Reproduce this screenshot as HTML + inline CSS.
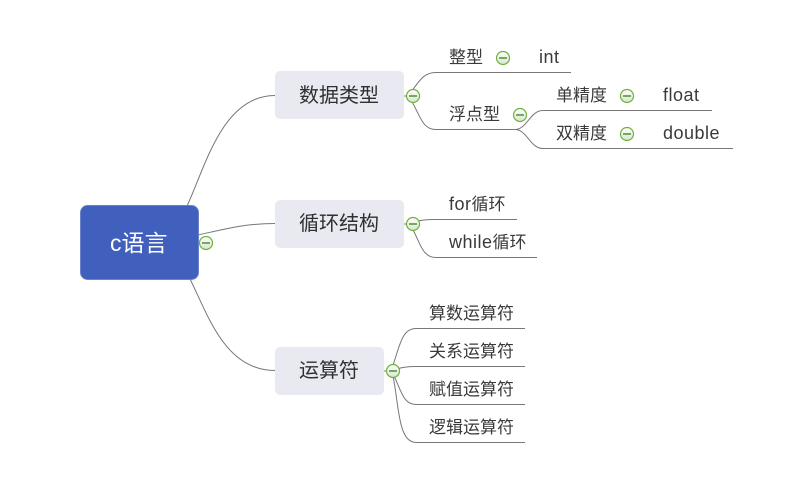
<!DOCTYPE html>
<html><head><meta charset="utf-8">
<style>
html,body{margin:0;padding:0;background:#fff}
body{width:797px;height:497px;overflow:hidden;position:relative}
svg{position:absolute;left:0;top:0}
text{font-family:"Liberation Sans","Noto Sans CJK SC",sans-serif;fill:#3a3a3a;font-size:17px}
.m{font-size:20px;fill:#2f2f2f}
.l{font-size:18px;letter-spacing:.5px}
</style></head><body>
<svg width="797" height="497" viewBox="0 0 797 497" xmlns="http://www.w3.org/2000/svg">
<defs>
<linearGradient id="g" x1="0" y1="0" x2="0" y2="1"><stop offset="0" stop-color="#fff"/><stop offset="1" stop-color="#d5e6cc"/></linearGradient>
<g id="t"><circle r="6.500" fill="url(#g)" stroke="#6fb13c" stroke-width="1.200"/><path d="M-4 0H4" stroke="#3f7a2a" stroke-width="1.300"/></g>
</defs>
<g fill="none" stroke="#777" stroke-width="1">
<path d="M187 206C205 168 222 95.500 275 95.500"/>
<path d="M198 235C225 229 245 223.500 275 223.500"/>
<path d="M190 279C208 315 225 370.500 275 370.500"/>
<path d="M404 96H411"/>
<path d="M411 92C420 80 424 72.500 436 72.500H571"/>
<path d="M411 100C420 115 422 129.500 436 129.500H515C527 129.500 530 110.500 543 110.500H712"/>
<path d="M515 129.500C527 129.500 530 148.500 543 148.500H733"/>
<path d="M404 224H410"/>
<path d="M414 222C420 220 425 219.500 435 219.500H517"/>
<path d="M413 230C420 242 422 257.500 436 257.500H537"/>
<path d="M384 371H390"/>
<path d="M393 365C400 345 402 328.500 416 328.500H525"/>
<path d="M397 369C403 367 408 366.500 416 366.500H525"/>
<path d="M394 376C401 390 403 404.500 416 404.500H525"/>
<path d="M393 376C399 405 398 442.500 416 442.500H525"/>
</g>
<rect x="80.500" y="205.500" width="118" height="74" rx="7" fill="#415fbc" stroke="#6b83cc" stroke-width="1"/>
<rect x="275" y="71" width="129" height="48" rx="5" fill="#e9e9f2"/>
<rect x="275" y="200" width="129" height="48" rx="5" fill="#e9e9f2"/>
<rect x="275" y="347" width="109" height="48" rx="5" fill="#e9e9f2"/>
<text x="110" y="251" style="font-size:23px;fill:#fff">c语言</text>
<text class="m" x="299" y="102">数据类型</text>
<text class="m" x="299" y="230">循环结构</text>
<text class="m" x="299" y="377">运算符</text>
<text x="449" y="63">整型</text>
<text class="l" x="539" y="63">int</text>
<text x="449" y="120">浮点型</text>
<text x="556" y="101">单精度</text>
<text class="l" x="663" y="101">float</text>
<text x="556" y="139">双精度</text>
<text class="l" x="663" y="139">double</text>
<text x="449" y="210"><tspan class="l">for</tspan>循环</text>
<text x="449" y="248"><tspan class="l">while</tspan>循环</text>
<text x="429" y="319">算数运算符</text>
<text x="429" y="357">关系运算符</text>
<text x="429" y="395">赋值运算符</text>
<text x="429" y="433">逻辑运算符</text>
<use href="#t" x="206" y="243"/>
<use href="#t" x="413" y="96"/>
<use href="#t" x="413" y="224"/>
<use href="#t" x="393" y="371"/>
<use href="#t" x="503" y="58"/>
<use href="#t" x="520" y="115"/>
<use href="#t" x="627" y="96"/>
<use href="#t" x="627" y="134"/>
</svg>
</body></html>
